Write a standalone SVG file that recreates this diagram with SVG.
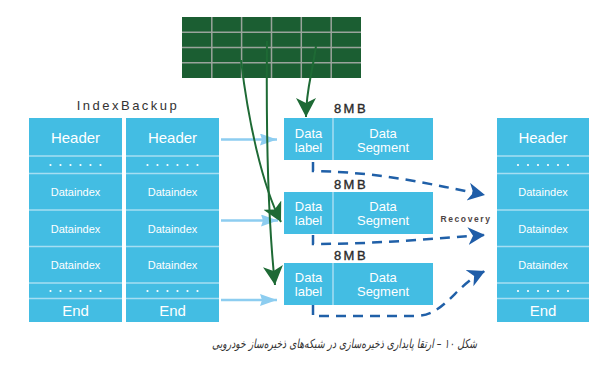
<svg xmlns="http://www.w3.org/2000/svg" width="604" height="368" viewBox="0 0 604 368">
<style>
.bg{fill:#ffffff}
.cell{fill:#43bde3}
.div{stroke:#a6def2;stroke-width:1.5;fill:none}
.wt{fill:#ffffff;font-family:"Liberation Sans",Arial,sans-serif;text-anchor:middle}
.big{font-size:15px}
.sm{font-size:11px}
.md{font-size:13px}
.dot{fill:#ffffff}
.lbl{fill:#333333;font-family:"Liberation Sans",Arial,sans-serif;text-anchor:middle}
.mb{font-size:13px;letter-spacing:2.5px;fill:#2a2a2a;stroke:#2a2a2a;stroke-width:0.35}
.rec{font-size:8.5px;font-weight:bold;letter-spacing:1.6px;fill:#4e4444}
.grid{fill:#1b5e32}
.gl{stroke:#9aa49c;stroke-width:1.5;fill:none}
.green{stroke:#1e6a35;stroke-width:2;fill:none}
.lb{stroke:#8dcdf0;stroke-width:2.5;fill:none}
.dash{stroke:#2060a8;stroke-width:2.5;fill:none;stroke-dasharray:10 7}
.cap{fill:#333333;font-family:"DejaVu Sans","Noto Sans",sans-serif;font-size:12.5px;font-style:italic;text-anchor:middle}
</style>
<defs>
<marker id="mg" markerUnits="userSpaceOnUse" markerWidth="22" markerHeight="22" refX="19" refY="10" orient="auto" viewBox="0 0 22 22">
<path d="M0,0 L19,10 L0,20 L5,10 z" fill="#1e6a35"/>
</marker>
<marker id="mb" markerUnits="userSpaceOnUse" markerWidth="20" markerHeight="20" refX="17" refY="9" orient="auto" viewBox="0 0 20 20">
<path d="M0,0 L17,9 L0,18 L5,9 z" fill="#1f5da8"/>
</marker>
<marker id="ml" markerUnits="userSpaceOnUse" markerWidth="20" markerHeight="14" refX="17" refY="6" orient="auto" viewBox="0 0 20 14">
<path d="M0,0 L17,6 L0,12 L2,6 z" fill="#8dcdf0"/>
</marker>
<g id="dots6">
<circle cx="-25" cy="0" r="1.1"/><circle cx="-15" cy="0" r="1.1"/><circle cx="-5" cy="0" r="1.1"/>
<circle cx="5" cy="0" r="1.1"/><circle cx="15" cy="0" r="1.1"/><circle cx="25" cy="0" r="1.1"/>
</g>
</defs>
<rect class="bg" x="0" y="0" width="604" height="368"/>

<g id="grid">
<rect class="grid" x="182" y="17" width="179" height="61"/>
<path class="gl" d="M211.8,17V78 M241.6,17V78 M271.5,17V78 M301.3,17V78 M331.2,17V78 M182,32.3H361 M182,47.5H361 M182,62.8H361"/>
</g>

<text id="title" class="lbl" x="128" y="110" style="font-size:13px;letter-spacing:2.5px">IndexBackup</text>

<g id="col1">
<rect class="cell" x="29" y="118" width="93" height="204"/>
<path class="div" d="M29,156H122 M29,173.5H122 M29,210H122 M29,246.5H122 M29,283H122 M29,298.5H122"/>
<text class="wt big" x="75.5" y="142.5">Header</text>
<use href="#dots6" x="75.5" y="165" class="dot"/>
<text class="wt sm" x="75.5" y="196">Dataindex</text>
<text class="wt sm" x="75.5" y="232.5">Dataindex</text>
<text class="wt sm" x="75.5" y="269">Dataindex</text>
<use href="#dots6" x="75.5" y="291" class="dot"/>
<text class="wt big" x="75.5" y="315.5">End</text>
</g>

<g id="col2">
<rect class="cell" x="126" y="118" width="93" height="204"/>
<path class="div" d="M126,156H219 M126,173.5H219 M126,210H219 M126,246.5H219 M126,283H219 M126,298.5H219"/>
<text class="wt big" x="172.5" y="142.5">Header</text>
<use href="#dots6" x="172.5" y="165" class="dot"/>
<text class="wt sm" x="172.5" y="196">Dataindex</text>
<text class="wt sm" x="172.5" y="232.5">Dataindex</text>
<text class="wt sm" x="172.5" y="269">Dataindex</text>
<use href="#dots6" x="172.5" y="291" class="dot"/>
<text class="wt big" x="172.5" y="315.5">End</text>
</g>

<g id="col3">
<rect class="cell" x="497" y="118" width="92" height="204"/>
<path class="div" d="M497,156H589 M497,173.5H589 M497,210H589 M497,246.5H589 M497,283H589 M497,298.5H589"/>
<text class="wt big" x="543" y="142.5">Header</text>
<use href="#dots6" x="543" y="165" class="dot"/>
<text class="wt sm" x="543" y="196">Dataindex</text>
<text class="wt sm" x="543" y="232.5">Dataindex</text>
<text class="wt sm" x="543" y="269">Dataindex</text>
<use href="#dots6" x="543" y="291" class="dot"/>
<text class="wt big" x="543" y="315.5">End</text>
</g>

<g id="seg1">
<text class="lbl mb" x="351" y="112.5">8MB</text>
<rect class="cell" x="284" y="118" width="149" height="42"/>
<path class="div" d="M333,118V160"/>
<text class="wt md" x="308.5" y="137.5">Data</text>
<text class="wt md" x="308.5" y="151.5">label</text>
<text class="wt md" x="383" y="137.5">Data</text>
<text class="wt md" x="383" y="151.5">Segment</text>
</g>

<g id="seg2">
<text class="lbl mb" x="351" y="189">8MB</text>
<rect class="cell" x="284" y="192" width="149" height="42"/>
<path class="div" d="M333,192V234"/>
<text class="wt md" x="308.5" y="211">Data</text>
<text class="wt md" x="308.5" y="225">label</text>
<text class="wt md" x="383" y="211">Data</text>
<text class="wt md" x="383" y="225">Segment</text>
</g>

<g id="seg3">
<text class="lbl mb" x="351" y="260">8MB</text>
<rect class="cell" x="284" y="263" width="149" height="42"/>
<path class="div" d="M333,263V305"/>
<text class="wt md" x="308.5" y="282">Data</text>
<text class="wt md" x="308.5" y="296">label</text>
<text class="wt md" x="383" y="282">Data</text>
<text class="wt md" x="383" y="296">Segment</text>
</g>

<g id="connectors">
<path class="lb" d="M221,139.5H277" marker-end="url(#ml)"/>
<path class="lb" d="M221,220.5H278" marker-end="url(#ml)"/>
<path class="lb" d="M221,300H277" marker-end="url(#ml)"/>
<path class="green" d="M241,60 C248,120 262,185 281,222" marker-end="url(#mg)"/>
<path class="green" d="M267,41 C266,140 268,220 275,285" marker-end="url(#mg)"/>
<path class="green" d="M316,46 C312,75 306,90 306,117" marker-end="url(#mg)"/>
<path class="dash" d="M313,162 V171 C380,172 430,184 485,195" marker-end="url(#mb)"/>
<path class="dash" d="M313,235 V244 C380,244 440,238 485,235" marker-end="url(#mb)"/>
<path class="dash" d="M313,305 V316 H415 C445,316 455,285 485,271" marker-end="url(#mb)"/>
<text class="lbl rec" x="466" y="222">Recovery</text>
</g>

<text id="caption" class="cap" x="344.5" y="348" direction="rtl" textLength="265" lengthAdjust="spacingAndGlyphs">شکل ۱۰ – ارتقا پایداری ذخیره‌سازی در شبکه‌های ذخیره‌ساز خودرویی</text>
</svg>
